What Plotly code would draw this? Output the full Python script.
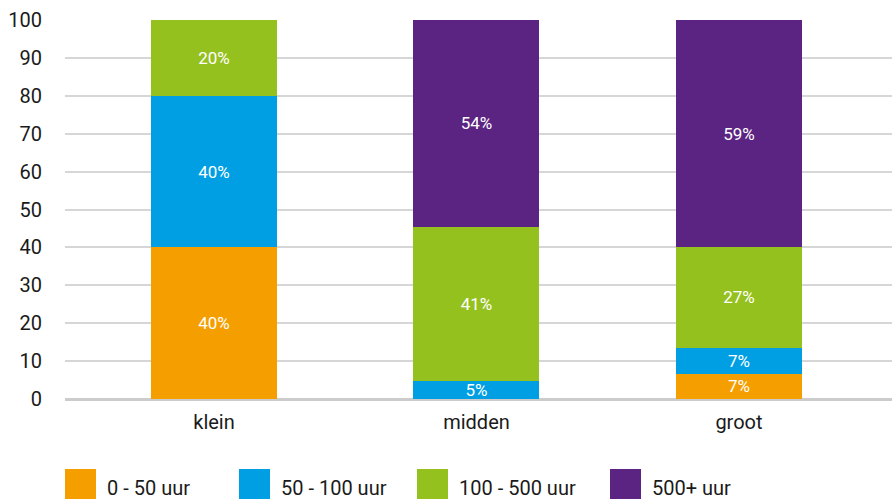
import plotly.graph_objects as go

categories = ["klein", "midden", "groot"]
series_names = ["0 - 50 uur", "50 - 100 uur", "100 - 500 uur", "500+ uur"]
# bar heights
v_0_50 = [40, 0, 6.6]
v_50_100 = [40, 4.8, 6.9]
v_100_500 = [20, 40.6, 26.6]
v_500plus = [0, 54.6, 59.9]
# labels as printed in the chart
l_0_50 = ["40%", "", "7%"]
l_50_100 = ["40%", "5%", "7%"]
l_100_500 = ["20%", "41%", "27%"]
l_500plus = ["", "54%", "59%"]
colors = ["#F59E00", "#009FE3", "#95C11F", "#5B2483"]
y_ticks = [0, 10, 20, 30, 40, 50, 60, 70, 80, 90, 100]

FONT = "Roboto, 'DejaVu Sans Condensed', sans-serif"

fig = go.Figure()
x_idx = list(range(len(categories)))
for name, vals, labels, col in zip(series_names,
                                   [v_0_50, v_50_100, v_100_500, v_500plus],
                                   [l_0_50, l_50_100, l_100_500, l_500plus], colors):
    fig.add_trace(go.Bar(
        x=x_idx, y=vals, name=name, marker=dict(color=col, line=dict(width=0)),
        width=0.48,
        text=labels,
        textposition="inside", insidetextanchor="middle",
        constraintext="none",
        textfont=dict(color="white", size=17, family=FONT),
        hoverinfo="skip",
    ))

fig.update_layout(
    barmode="stack",
    width=892, height=499,
    margin=dict(l=65, r=0, t=20, b=100, autoexpand=False),
    paper_bgcolor="white", plot_bgcolor="white",
    showlegend=False,
    font=dict(family=FONT, color="#1a1a1a", size=20),
)
fig.update_xaxes(
    range=[-0.5676, 2.583], tickvals=x_idx, ticktext=categories,
    showgrid=False, zeroline=False, showline=False, ticks="",
    tickfont=dict(size=20), ticklabelstandoff=9, automargin=False,
)
fig.update_yaxes(
    range=[0, 100], tickvals=y_ticks, showgrid=True, gridcolor="#d6d6d6", gridwidth=1.5,
    zeroline=True, zerolinecolor="#cccccc", zerolinewidth=2.5,
    showline=False, ticks="", tickfont=dict(size=20), ticklabelstandoff=22, automargin=False,
)

# custom legend with large square swatches
legend_x = [65, 239, 417, 610]
for lx, name, col in zip(legend_x, series_names, colors):
    fig.add_shape(type="rect", xref="paper", yref="paper",
                  x0=(lx - 65) / 827, x1=(lx + 31 - 65) / 827,
                  y0=-(499 - 399) / 379, y1=-(469 - 399) / 379,
                  fillcolor=col, line=dict(width=0))
    fig.add_annotation(xref="paper", yref="paper",
                       x=(lx + 41 - 65) / 827, y=-(488 - 399) / 379,
                       text=name, showarrow=False, xanchor="left", yanchor="middle",
                       borderpad=0,
                       font=dict(size=20, family=FONT, color="#1a1a1a"))

fig.write_html("out.html", config={"displayModeBar": False},
               post_script="document.body.style.margin='0';document.body.style.overflow='hidden';")
